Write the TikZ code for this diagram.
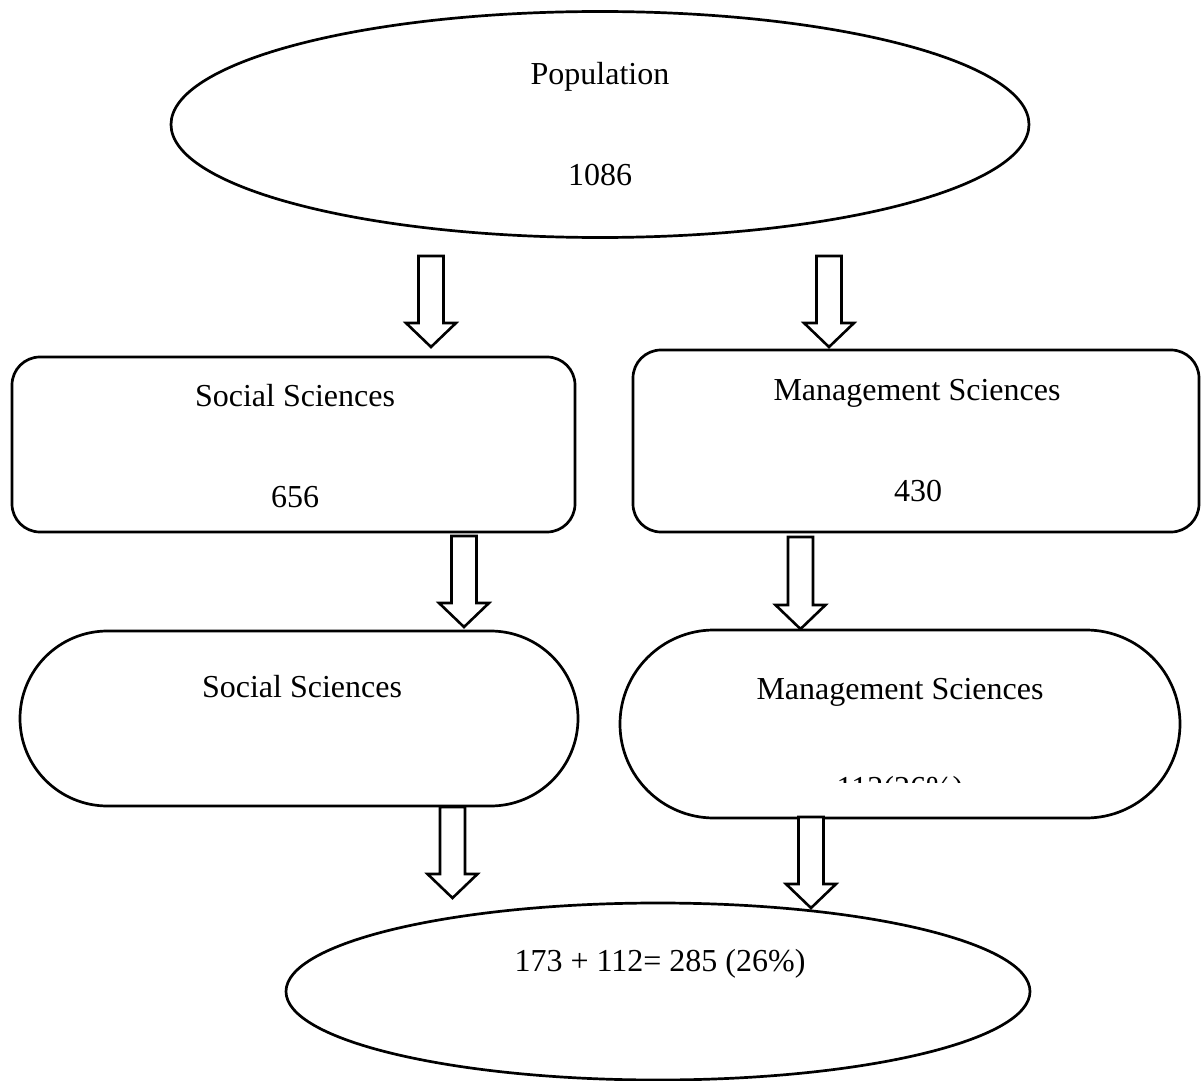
\documentclass[tikz,border=0pt]{standalone}
\usepackage{fontspec}
\setmainfont{Liberation Serif}
\usetikzlibrary{shapes.geometric,shapes.misc,calc}

% one unit = one pixel of a 1201 x 1081 canvas, y running downwards
\tikzset{
  every node/.style={inner sep=0pt, outer sep=0pt},
  outline/.style={draw=black, line width=1.35pt, fill=white},
  oval/.style={outline, ellipse},
  card/.style={outline, rectangle, rounded corners=14pt},
  pill/.style={outline, rounded rectangle},
  txt/.style={anchor=base, font=\fontsize{16}{19}\selectfont},
  barrow/.style={draw=black, line width=1.3pt, fill=white, line join=miter}
}

% hollow block arrow from #1 (tail, centre of shaft) down to #2 (tip)
\newcommand\blockarrow[2]{%
  \draw[barrow] let \p1=(#1), \p2=(#2) in
    (\x1-6.25pt,\y1) -- (\x1+6.25pt,\y1) -- (\x1+6.25pt,\y2+12pt)
    -- (\x1+12.5pt,\y2+12pt) -- (\x1,\y2) -- (\x1-12.5pt,\y2+12pt)
    -- (\x1-6.25pt,\y2+12pt) -- cycle;}

\begin{document}
\begin{tikzpicture}[x=0.5pt, y=-0.5pt]
  \useasboundingbox (0,0) rectangle (1201,1081);

  % shapes
  \node[oval, minimum width=429pt, minimum height=113pt] (pop) at (600,124.5) {};
  \node[card, minimum width=281.5pt, minimum height=87.5pt] (socbox) at (293.5,444.5) {};
  \node[card, minimum width=283pt, minimum height=91pt] (mgmbox) at (916,441) {};
  \node[pill, minimum width=279pt, minimum height=87.5pt] (socpill) at (299,718.5) {};
  \node[pill, minimum width=280pt, minimum height=94pt] (mgmpill) at (900,724) {};
  \node[oval, minimum width=372pt, minimum height=88.5pt] (total) at (658,991.5) {};

  % labels
  \node[txt] (popname) at (600,85) {Population};
  \node[txt] (popnum) at (600,185) {1086};
  \node[txt] (socname) at (295,406) {Social Sciences};
  \node[txt] (socnum) at (295,507) {656};
  \node[txt] (mgmname) at (917,400) {Management Sciences};
  \node[txt] (mgmnum) at (918,501) {430};
  \node[txt] (socpname) at (302,697) {Social Sciences};
  \node[txt] (mgmpname) at (900,699) {Management Sciences};
  \begin{scope}
    \clip (620,630) rectangle (1180,782);
    \node[txt] (mgmpnum) at (900,798) {112(26\%)};
  \end{scope}
  \node[txt] (sum) at (660,971) {173 + 112= 285 (26\%)};

  % arrow end points
  \coordinate (a1) at (431,256);  \coordinate (a1t) at (431,347);
  \coordinate (a2) at (829,256);  \coordinate (a2t) at (829,347);
  \coordinate (a3) at (464,536);  \coordinate (a3t) at (464,627);
  \coordinate (a4) at (800.5,537);\coordinate (a4t) at (800.5,629);
  \coordinate (a5) at (452.5,807);\coordinate (a5t) at (452.5,898);
  \coordinate (a6) at (811,817);  \coordinate (a6t) at (811,908);

  % connectors
  \blockarrow{a1}{a1t}
  \blockarrow{a2}{a2t}
  \blockarrow{a3}{a3t}
  \blockarrow{a4}{a4t}
  \blockarrow{a5}{a5t}
  \blockarrow{a6}{a6t}
\end{tikzpicture}
\end{document}
